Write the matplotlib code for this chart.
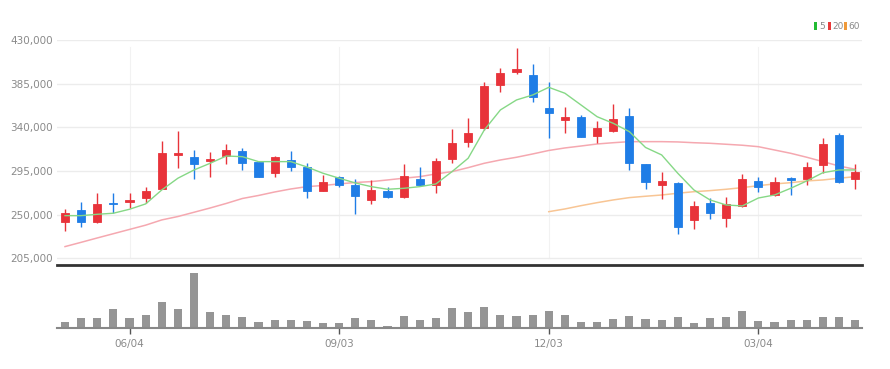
import matplotlib
matplotlib.use("Agg")
import matplotlib.pyplot as plt
from matplotlib.patches import Rectangle
from matplotlib.ticker import FuncFormatter

plt.rcParams['font.family'] = ['Liberation Sans Narrow', 'DejaVu Sans']

# weekly candles
opens = [242700, 254800, 242700, 262300, 263300, 266800, 276700, 311500, 309700, 305300,
         310400, 315900, 304600, 293200, 306600, 298800, 274700, 288500, 280000, 265100,
         274700, 267900, 286700, 280500, 307300, 324600, 339000, 383600, 397300, 393900,
         359600, 347500, 350900, 331100, 336500, 351700, 301900, 280500, 282900, 244500,
         262300, 246800, 258900, 284700, 270200, 288100, 286400, 301200, 332100, 286700]
highs = [255500, 263300, 272000, 272000, 272600, 278800, 325900, 336500, 316600, 314900,
         322800, 318400, 305300, 310400, 315600, 302900, 290900, 289800, 286700, 285700,
         278800, 301900, 299400, 308100, 338000, 349300, 387000, 400800, 421400, 405300,
         387000, 361300, 352700, 346500, 364000, 359600, 302500, 293600, 284000, 264100,
         266800, 268500, 291600, 289100, 288500, 289100, 304600, 328700, 333800, 302200]
lows = [233100, 237000, 241500, 252000, 256500, 261700, 276000, 298400, 286700, 289100,
        302200, 296000, 288800, 288500, 295300, 266800, 274000, 278800, 250700, 261000,
        266800, 267300, 279500, 272000, 302900, 319400, 337200, 376700, 395000, 366400,
        328700, 334500, 329700, 323500, 335500, 296000, 276100, 265800, 229700, 234900,
        245200, 237000, 257600, 273000, 269200, 270200, 280500, 292600, 282300, 276400]
closes = [251400, 242700, 261300, 261000, 265400, 274700, 313200, 313500, 302200, 307000,
          316900, 303500, 289100, 309400, 299100, 274400, 284000, 280900, 269500, 275400,
          267900, 290100, 280500, 305600, 324100, 334500, 382900, 396300, 400600, 371600,
          354500, 350900, 330300, 339600, 348300, 303500, 284000, 284700, 237000, 258900,
          252000, 261000, 286400, 278800, 283300, 285700, 299400, 322500, 283300, 293600]

ma5 = [248900, 248900, 250300, 251400, 255500, 261000, 275400, 287500, 296000, 302900,
       310400, 309700, 304600, 304600, 304600, 299100, 292600, 287500, 282600, 278800,
       276100, 277100, 278800, 281600, 294300, 308100, 337200, 357900, 368200, 373300,
       381200, 375100, 363000, 350900, 344100, 335500, 319200, 311500, 292600, 275400,
       265100, 259900, 258900, 267100, 270200, 277100, 284700, 293200, 296000, 296000]
ma20 = [217000, 221400, 225900, 230300, 234700, 239100, 244500, 248000, 252400, 256800,
        261500, 266600, 269700, 273300, 276400, 278800, 280000, 281600, 283100, 284000,
        285700, 287500, 289100, 291900, 294300, 298400, 302900, 306300, 309100, 312500,
        316100, 318700, 320700, 322800, 324100, 325200, 325200, 325200, 324900, 324100,
        323500, 322500, 321500, 320000, 316600, 313200, 309100, 304600, 300100, 296700]
ma60_start = 30
ma60 = [253000, 255800, 259200, 262300, 265100, 267500, 268900, 270200, 272000, 273600,
        274700, 276100, 277800, 279800, 281600, 282900, 284700, 285700, 287500, 289100]

volumes = [19, 29, 29, 57, 29, 39, 79, 57, 165, 49, 39, 33, 19, 24, 24, 22, 14, 14, 29, 24,
           6, 37, 24, 29, 59, 48, 62, 39, 37, 39, 52, 39, 19, 19, 27, 37, 27, 24, 34, 14,
           29, 34, 52, 22, 19, 24, 24, 32, 34, 24]

tick_pos = [4, 17, 30, 43]
tick_labels = ["06/04", "09/03", "12/03", "03/04"]
price_ticks = [205000, 250000, 295000, 340000, 385000, 430000]

UP = "#e8333a"
DOWN = "#1f7de6"
GRID = "#ececec"
TXT = "#8a8a8a"

fig = plt.figure(figsize=(8.9, 3.69), dpi=100)
ax = fig.add_axes([0.064, 0.2818, 0.905, 0.6098])
axv = fig.add_axes([0.064, 0.1111, 0.905, 0.1626], sharex=ax)

n = len(closes)
for i in range(n):
    o, h, l, c = opens[i], highs[i], lows[i], closes[i]
    col = UP if c >= o else DOWN
    ax.vlines(i, l, h, color=col, linewidth=1, zorder=3)
    body = max(abs(c - o), 1200)
    ax.add_patch(Rectangle((i - 0.25, min(o, c)), 0.5, body, facecolor=col,
                           edgecolor=col, linewidth=0.6, zorder=4))

ax.plot(range(n), ma5, color="#86d886", linewidth=1, zorder=5)
ax.plot(range(n), ma20, color="#f5a8b0", linewidth=1.1, zorder=2)
ax.plot(range(ma60_start, ma60_start + len(ma60)), ma60, color="#f8c594",
        linewidth=1.1, zorder=2)

ax.set_xlim(-0.5, 49.45)
ax.set_ylim(198000, 430000)
ax.set_yticks(price_ticks)
ax.yaxis.set_major_formatter(FuncFormatter(lambda v, p: "{:,}".format(int(v))))
ax.tick_params(axis="y", length=0, pad=3, labelsize=7.5, labelcolor=TXT)
ax.tick_params(axis="x", length=0, labelbottom=False)
ax.grid(axis="y", color=GRID, linewidth=1, zorder=0)
for t in tick_pos:
    ax.axvline(t, color="#f2f2f2", linewidth=0.8, zorder=0, ymin=0.03, ymax=0.97)
for s in ["top", "right", "left"]:
    ax.spines[s].set_visible(False)
ax.spines["bottom"].set_color("#333333")
ax.spines["bottom"].set_linewidth(2)

axv.bar(range(n), volumes, width=0.5, color="#959595", zorder=2)
axv.set_ylim(0, max(volumes) * 60 / 55)
axv.set_yticks([])
axv.set_xticks(tick_pos)
axv.set_xticklabels(tick_labels)
axv.tick_params(axis="x", length=4, width=1, color="#555555", labelsize=7.5,
                labelcolor=TXT, pad=4)
for s in ["top", "right", "left"]:
    axv.spines[s].set_visible(False)
axv.spines["bottom"].set_color("#888888")
axv.spines["bottom"].set_linewidth(1.5)

# legend top right
leg = [("5", "#22bb33", 0.9150), ("20", "#e83a3a", 0.9300), ("60", "#f09a3a", 0.9485)]
for label, col, xf in leg:
    fig.patches.append(Rectangle((xf, 0.919), 0.0035, 0.021, transform=fig.transFigure,
                                 facecolor=col, edgecolor="none"))
    fig.text(xf + 0.005, 0.929, label, fontsize=6.5, color=TXT, va="center", ha="left")

fig.savefig("out.png", dpi=100, facecolor="white")
